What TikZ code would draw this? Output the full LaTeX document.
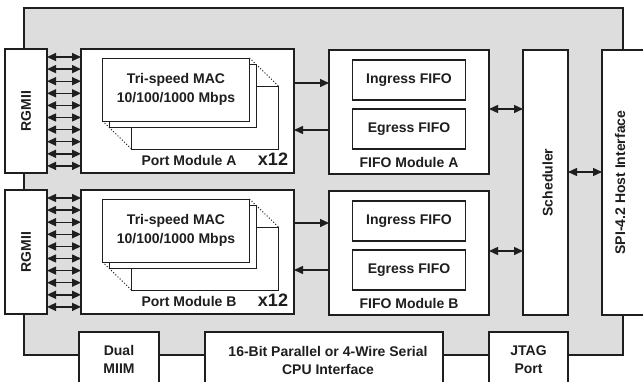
\documentclass[tikz,border=0pt]{standalone}
\usepackage{fontspec}
\setmainfont{Liberation Sans}
\usetikzlibrary{positioning,arrows.meta}
\definecolor{chipgray}{RGB}{221,221,221}
\definecolor{linegray}{RGB}{30,30,30}

\begin{document}
\begin{tikzpicture}[x=1pt, y=-1pt,
				box/.style={draw=linegray, fill=white, line width=1.3pt, inner sep=0pt, outer sep=0pt},
				macbox/.style={box, line width=1pt, minimum width=147pt, minimum height=63pt},
				lbl/.style={font=\fontsize{14}{18}\selectfont\bfseries, text=linegray, align=center, inner sep=0pt},
				arrow/.style={draw=linegray, line width=1.4pt, -{Triangle[length=9pt,width=8pt]}},
				dbl/.style={arrow, {Triangle[length=9pt,width=8pt]}-{Triangle[length=9pt,width=8pt]}}
			]
			\useasboundingbox (0,0) rectangle (643,381);
			\clip (0,0) rectangle (643,381);

			% Chip
			\node[box, fill=chipgray, minimum width=599pt, minimum height=347pt] (chip) at (323.5,181.5) {};

			% Row A
			\node[box, minimum width=42pt, minimum height=124pt] (rgmiiA) at (26,111) {};
			\node[lbl, rotate=90] at (rgmiiA) {RGMII};
			\node[box, minimum width=213pt, minimum height=124pt] (portA) at (187.5,111) {};
			\node[macbox] (macAc) at (205,117.5) {};
			\node[macbox] (macAb) at (183,95.5) {};
			\node[macbox] (macA) at (176,89.5) {};
			\node[lbl, font=\fontsize{14}{19}\selectfont\bfseries] at (macA) {Tri-speed MAC\\10/100/1000 Mbps};
			\draw[linegray, line width=1pt, dotted] (macA.north east) -- (macAc.north east);
			\draw[linegray, line width=1pt, dotted] (macA.south west) -- (macAc.south west);
			\node[lbl] at ([xshift=108pt,yshift=13pt]portA.south west) {Port Module A};
			\node[lbl, font=\fontsize{18}{20}\selectfont\bfseries] at ([xshift=-21pt,yshift=14pt]portA.south east) {x12};
			\node[box, minimum width=160pt, minimum height=124pt] (fifoA) at (409,112) {};
			\node[box, minimum width=113pt, minimum height=40pt, below=10pt of fifoA.north] (ingA) {};
			\node[lbl] at (ingA) {Ingress FIFO};
			\node[box, minimum width=113pt, minimum height=40pt, below=9pt of ingA] (egA) {};
			\node[lbl] at (egA) {Egress FIFO};
			\node[lbl] at ([yshift=12pt]fifoA.south) {FIFO Module A};

			% Row B
			\node[box, minimum width=42pt, minimum height=124pt] (rgmiiB) at (26,252) {};
			\node[lbl, rotate=90] at (rgmiiB) {RGMII};
			\node[box, minimum width=213pt, minimum height=124pt] (portB) at (187.5,252) {};
			\node[macbox] (macBc) at (205,258.5) {};
			\node[macbox] (macBb) at (183,236.5) {};
			\node[macbox] (macB) at (176,230.5) {};
			\node[lbl, font=\fontsize{14}{19}\selectfont\bfseries] at (macB) {Tri-speed MAC\\10/100/1000 Mbps};
			\draw[linegray, line width=1pt, dotted] (macB.north east) -- (macBc.north east);
			\draw[linegray, line width=1pt, dotted] (macB.south west) -- (macBc.south west);
			\node[lbl] at ([xshift=108pt,yshift=13pt]portB.south west) {Port Module B};
			\node[lbl, font=\fontsize{18}{20}\selectfont\bfseries] at ([xshift=-21pt,yshift=14pt]portB.south east) {x12};
			\node[box, minimum width=160pt, minimum height=124pt] (fifoB) at (409,253) {};
			\node[box, minimum width=113pt, minimum height=40pt, below=10pt of fifoB.north] (ingB) {};
			\node[lbl] at (ingB) {Ingress FIFO};
			\node[box, minimum width=113pt, minimum height=40pt, below=9pt of ingB] (egB) {};
			\node[lbl] at (egB) {Egress FIFO};
			\node[lbl] at ([yshift=12pt]fifoB.south) {FIFO Module B};

			% Scheduler and host side
			\node[box, minimum width=45pt, minimum height=265pt] (sched) at (545.5,182.5) {};
			\node[lbl, rotate=90] at ([xshift=2pt]sched) {Scheduler};
			\node[box, minimum width=50pt, minimum height=265pt] (spi) at (627,182.5) {};
			\node[lbl, rotate=90] at ([xshift=-7pt]spi) {SPI-4.2 Host Interface};

			% Bottom interfaces
			\node[box, minimum width=80pt, minimum height=78pt] (miim) at (119,371) {};
			\node[lbl] at ([yshift=-27pt]miim.north) {Dual\\MIIM};
			\node[box, minimum width=238pt, minimum height=78pt] (cpu) at (324,371) {};
			\node[lbl] at ([xshift=4pt,yshift=-28pt]cpu.north) {16-Bit Parallel or 4-Wire Serial\\CPU Interface};
			\node[box, minimum width=79pt, minimum height=78pt] (jtag) at (528.5,371) {};
			\node[lbl] at ([yshift=-28pt]jtag.north) {JTAG\\Port};

			% Arrows
			\foreach \i in {0,...,9}{
				\coordinate (lA\i) at ([yshift={-8pt-12.1pt*\i}]rgmiiA.north east);
				\draw[dbl] (lA\i) -- (lA\i -| portA.west);
				\coordinate (lB\i) at ([yshift={-8pt-12.1pt*\i}]rgmiiB.north east);
				\draw[dbl] (lB\i) -- (lB\i -| portB.west);
			}
			\coordinate (txA) at ([yshift=-34pt]portA.north east);
			\coordinate (rxA) at ([yshift=-81pt]portA.north east);
			\draw[arrow] (txA) -- (txA -| fifoA.west);
			\draw[arrow] (rxA -| fifoA.west) -- (rxA);
			\coordinate (txB) at ([yshift=-33pt]portB.north east);
			\coordinate (rxB) at ([yshift=-80pt]portB.north east);
			\draw[arrow] (txB) -- (txB -| fifoB.west);
			\draw[arrow] (rxB -| fifoB.west) -- (rxB);
			\coordinate (sA) at ([yshift=-59pt]fifoA.north east);
			\coordinate (sB) at ([yshift=-60pt]fifoB.north east);
			\draw[dbl] (sA) -- (sA -| sched.west);
			\draw[dbl] (sB) -- (sB -| sched.west);
			\coordinate (host) at ([yshift=-122pt]sched.north east);
			\draw[dbl] (host) -- (host -| spi.west);
		\end{tikzpicture}
\end{document}
